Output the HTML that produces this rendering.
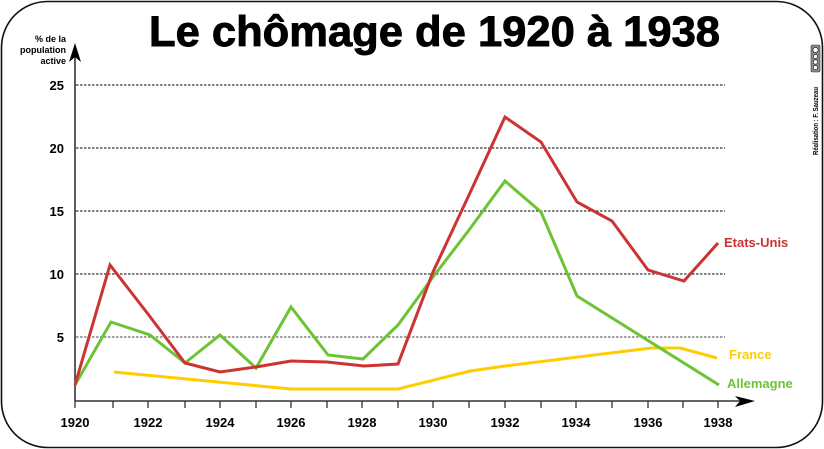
<!DOCTYPE html>
<html>
<head>
<meta charset="utf-8">
<style>
html,body{margin:0;padding:0;background:#fff;}
svg{display:block;}
text{font-family:"Liberation Sans",Arial,sans-serif;font-weight:bold;}
</style>
</head>
<body>
<svg width="824" height="449" viewBox="0 0 824 449" xmlns="http://www.w3.org/2000/svg">
  <rect x="0" y="0" width="824" height="449" fill="#fff"/>
  <!-- frame -->
  <rect x="1.5" y="1.5" width="821" height="446" rx="46" ry="46" fill="none" stroke="#111" stroke-width="1.6"/>

  <!-- title -->
  <text x="149" y="46" font-size="43" fill="#000" stroke="#000" stroke-width="0.9" textLength="571" lengthAdjust="spacingAndGlyphs">Le chômage de 1920 à 1938</text>

  <!-- credit -->
  <rect x="811" y="45" width="9" height="27" rx="1.5" fill="#8a8a8a" stroke="#333" stroke-width="0.6"/>
  <circle cx="815.5" cy="50" r="2.6" fill="#fff" stroke="#000" stroke-width="0.6"/>
  <circle cx="815.5" cy="56.5" r="2.2" fill="#fff" stroke="#000" stroke-width="0.6"/>
  <circle cx="815.5" cy="62" r="2.2" fill="#fff" stroke="#000" stroke-width="0.6"/>
  <circle cx="815.5" cy="67.5" r="2.2" fill="#fff" stroke="#000" stroke-width="0.6"/>
  <text transform="translate(818,155) rotate(-90)" font-size="7" fill="#000" textLength="68" lengthAdjust="spacingAndGlyphs">Réalisation : F. Sauzeau</text>

  <!-- gridlines -->
  <g stroke="#000" stroke-width="1" stroke-dasharray="2.5,1.5">
    <line x1="76" y1="85" x2="725" y2="85"/>
    <line x1="76" y1="148" x2="725" y2="148"/>
    <line x1="76" y1="211" x2="725" y2="211"/>
    <line x1="76" y1="274" x2="725" y2="274"/>
    <line x1="76" y1="337" x2="725" y2="337" stroke="#444"/>
  </g>

  <!-- axes -->
  <g stroke="#333" stroke-width="1.6" fill="none">
    <line x1="75" y1="401" x2="75" y2="50"/>
    <line x1="75" y1="401" x2="745" y2="401"/>
  </g>
  <path d="M75,43 L81,62 L75,57 L69,62 Z" fill="#000"/>
  <path d="M755,401 L735,396 L740,401 L735,407 Z" fill="#000"/>

  <!-- x ticks -->
  <g stroke="#333" stroke-width="1.3">
    <line x1="75" y1="401" x2="75" y2="408"/>
    <line x1="113" y1="401" x2="113" y2="408"/>
    <line x1="148" y1="401" x2="148" y2="408"/>
    <line x1="185" y1="401" x2="185" y2="408"/>
    <line x1="220" y1="401" x2="220" y2="408"/>
    <line x1="256" y1="401" x2="256" y2="408"/>
    <line x1="291" y1="401" x2="291" y2="408"/>
    <line x1="327" y1="401" x2="327" y2="408"/>
    <line x1="362" y1="401" x2="362" y2="408"/>
    <line x1="398" y1="401" x2="398" y2="408"/>
    <line x1="433" y1="401" x2="433" y2="408"/>
    <line x1="469" y1="401" x2="469" y2="408"/>
    <line x1="505" y1="401" x2="505" y2="408"/>
    <line x1="541" y1="401" x2="541" y2="408"/>
    <line x1="576" y1="401" x2="576" y2="408"/>
    <line x1="612" y1="401" x2="612" y2="408"/>
    <line x1="648" y1="401" x2="648" y2="408"/>
    <line x1="683" y1="401" x2="683" y2="408"/>
    <line x1="718" y1="401" x2="718" y2="408"/>
  </g>

  <!-- x labels -->
  <g font-size="13" fill="#000" text-anchor="middle">
    <text x="75" y="427">1920</text>
    <text x="148" y="427">1922</text>
    <text x="220" y="427">1924</text>
    <text x="291" y="427">1926</text>
    <text x="362" y="427">1928</text>
    <text x="433" y="427">1930</text>
    <text x="505" y="427">1932</text>
    <text x="576" y="427">1934</text>
    <text x="648" y="427">1936</text>
    <text x="718" y="427">1938</text>
  </g>

  <!-- y labels -->
  <g font-size="13" fill="#000" text-anchor="end">
    <text x="64" y="90">25</text>
    <text x="64" y="153">20</text>
    <text x="64" y="216">15</text>
    <text x="64" y="279">10</text>
    <text x="64" y="342">5</text>
  </g>
  <g font-size="9" fill="#000" text-anchor="end">
    <text x="66" y="42">% de la</text>
    <text x="66" y="53">population</text>
    <text x="66" y="64">active</text>
  </g>

  <!-- series -->
  <g fill="none" stroke-width="3" stroke-linejoin="miter" stroke-linecap="butt">
    <polyline stroke="#ffcc00" points="114,372 291,389 398,389 470,371 505,366 651,348 680,348 717,358"/>
    <polyline stroke="#6cc333" points="75,385 111,322 150,335 185,363 220,335 256,368 291,307 328,355 363,359 398,325 433,277 469,230 505,181 541,212 577,296 719,385"/>
    <polyline stroke="#cc3333" points="75,385 110,265 148,314 185,363 220,372 256,367 291,361 327,362 364,366 398,364 433,272 469,195 505,117 541,142 577,202 612,221 648,270 684,281 718,243"/>
  </g>

  <!-- series labels -->
  <g font-size="13">
    <text x="724" y="247" fill="#cc3333">Etats-Unis</text>
    <text x="729" y="359" fill="#ffcc00">France</text>
    <text x="727" y="388" fill="#6cc333">Allemagne</text>
  </g>
</svg>
</body>
</html>
